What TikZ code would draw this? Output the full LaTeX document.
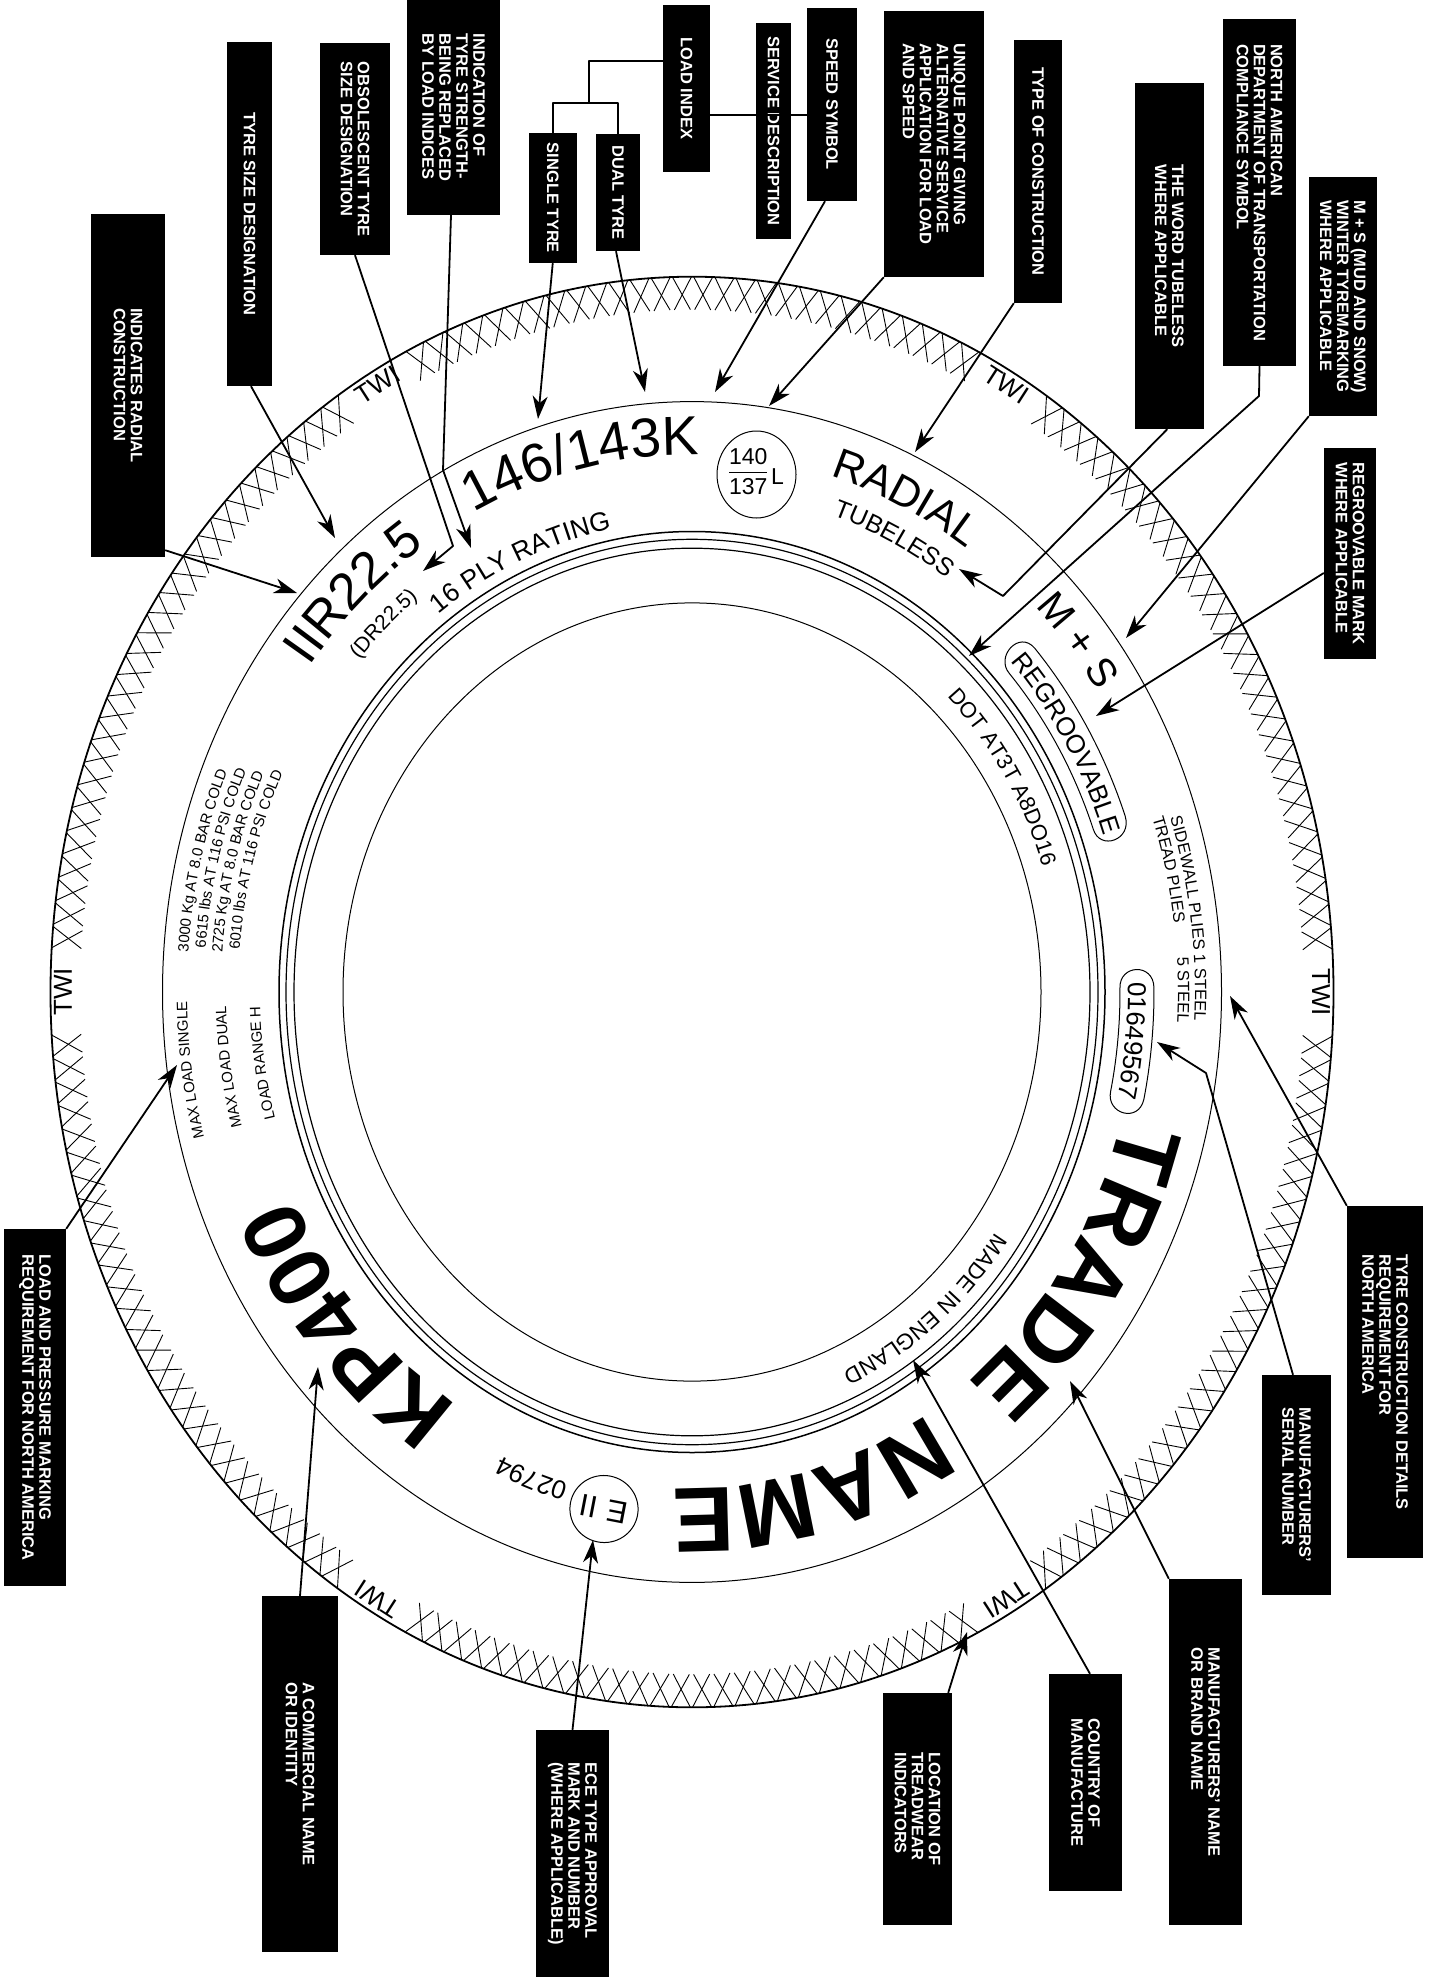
\documentclass[tikz,border=0pt]{standalone}
\usepackage{fontspec}
\setmainfont{Liberation Sans}
\usetikzlibrary{arrows.meta,decorations.text,shapes.geometric}

\newcommand{\tyreratio}{1.115}
\newcommand{\tyreweight}{}
% half range, size, centre angle, radius, text
\newcommand{\tyretext}[5][15]{%
  \pgfmathsetmacro{\tyreb}{#4*\tyreratio}%
  \pgfmathsetmacro{\tyrea}{#3-#1}%
  \pgfmathsetmacro{\tyrec}{#3+#1}%
  \path[decorate,decoration={text along path,text align=center,text={|\fontsize{#2}{#2}\selectfont\tyreweight|#5}}]
    (\tyrea:#4 and \tyreb) arc[start angle=\tyrea,end angle=\tyrec,x radius=#4,y radius=\tyreb];
}
% from, to, inner radius, outer radius
\newcommand{\tyrepill}[4]{%
  \pgfmathsetmacro{\pilli}{#3*\tyreratio}%
  \pgfmathsetmacro{\pillo}{#4*\tyreratio}%
  \pgfmathsetmacro{\pilla}{#1-2.8}%
  \pgfmathsetmacro{\pillb}{#2+2.8}%
  \draw[sideline] (#1:#4 and \pillo) arc[start angle=#1,end angle=#2,x radius=#4,y radius=\pillo]
    .. controls (\pillb:#4 and \pillo) and (\pillb:#3 and \pilli) .. (#2:#3 and \pilli)
    arc[start angle=#2,end angle=#1,x radius=#3,y radius=\pilli]
    .. controls (\pilla:#3 and \pilli) and (\pilla:#4 and \pillo) .. cycle;
}

\tikzset{
  lab/.style 2 args={fill=black,text=white,font=\fontsize{16.5}{17}\selectfont\bfseries,rotate=-90,align=left,inner sep=0pt,minimum width=#1pt,minimum height=#2pt},
  sideline/.style={line width=1pt},
  rimline/.style={line width=1.2pt},
  hatch/.style={line width=0.9pt},
  conn/.style={line width=1.8pt},
  twi/.style={font=\fontsize{26}{26}\selectfont,inner sep=0pt}
}

\begin{document}
\begin{tikzpicture}[x=1pt,y=-1pt,line join=round,>={Stealth[length=23pt,width=15pt,inset=7pt]}]
\useasboundingbox (0,0) rectangle (1431,1977);

\begin{scope}[shift={(692,992)}]
  % tyre outline
  \draw[line width=1.8pt] (0,0) ellipse[x radius=641.5,y radius=715.3];
  \draw[sideline] (0,0) ellipse[x radius=529.5,y radius=590.4];
  \draw[line width=1.5pt] (0,0) ellipse[x radius=413,y radius=460.5];
  \draw[rimline] (0,0) ellipse[x radius=406,y radius=452.7];
  \draw[rimline] (0,0) ellipse[x radius=398,y radius=443.8];
  \draw[sideline] (0,0) ellipse[x radius=349,y radius=389.1];
  % tread pattern
  \foreach \s in {0,60,...,300}{
    \foreach \i in {0,...,27}{
      \pgfmathsetmacro{\a}{\s+4.4+\i*1.9}
      \draw[hatch] ({\a-0.85}:641.5 and 715.3) -- ({\a+0.75}:612 and 682.4);
      \draw[hatch] ({\a+0.85}:641.5 and 715.3) -- ({\a-0.75}:612 and 682.4);
    }
  }
  \foreach \a/\r in {0/-90,60/-147.2,120/147.2,180/90,240/32.8,300/-32.8}
    \node[twi,rotate=\r] (twi\a) at (\a:629 and 701.3) {TWI};
  % sidewall markings
  \tyretext{52}{227}{481}{IIR22.5}
  \tyretext{21}{227.2}{447}{(DR22.5)}
  \tyretext[17]{55}{257}{482}{146/143K}
  \tyretext{26.5}{246.2}{423}{16 PLY RATING}
  \tyretext{43}{-64.5}{483}{RADIAL}
  \tyretext{25}{-63.8}{450}{TUBELESS}
  \tyretext{40}{-39.6}{487}{M + S}
  \tyretext[17]{26}{-31}{435}{REGROOVABLE}
  \tyrepill{-42}{-20}{427}{461}
  \tyretext[17]{22}{-32}{368}{DOT AT3T A8DO16}
  \tyretext{16.5}{-7.6}{503}{SIDEWALL PLIES 1 STEEL}
  \tyretext{16.5}{-13.1}{486}{TREAD PLIES}
  \tyretext{16.5}{-0.2}{486}{5 STEEL}
  \tyretext{26}{5.7}{436}{01649567}
  \tyrepill{-0.5}{12}{428}{462}
  \renewcommand{\tyreweight}{\bfseries}
  \tyretext[23]{90}{33.5}{445}{TRADE}
  \tyretext[23]{92}{75.4}{445}{NAME}
  \tyretext[23]{88}{138.5}{439}{KP400}
  \renewcommand{\tyreweight}{}
  \tyretext[18]{22.5}{50.9}{372}{MADE IN ENGLAND}
  \tyretext{26}{110}{458}{02794}
  \tyretext{15}{172}{505}{MAX LOAD SINGLE}
  \tyretext{15}{171.7}{466}{MAX LOAD DUAL}
  \tyretext{15}{171.5}{432}{LOAD RANGE H}
  \tyretext{15}{193.6}{505}{3000 Kg AT 8.0 BAR COLD}
  \tyretext{15}{194.4}{488}{6615 lbs AT 116 PSI COLD}
  \tyretext{15}{194.5}{471}{2725 Kg AT 8.0 BAR COLD}
  \tyretext{15}{195.3}{454}{6010 lbs AT 116 PSI COLD}
\end{scope}

% approval marks
\setlength{\arrayrulewidth}{1pt}
\node[draw,sideline,ellipse,minimum width=79pt,minimum height=87pt,inner sep=0pt,font=\fontsize{23}{24}\selectfont] (svcmark) at (756.5,474.5)
  {\begin{tabular}{@{}c@{}}140\\[1pt]\hline\rule{0pt}{21pt}137\end{tabular}\,\raisebox{-3.3pt}{L}};
\node[draw,sideline,ellipse,minimum width=60pt,minimum height=67pt,inner sep=0pt,rotate=169,font=\fontsize{31}{31}\selectfont] (ecemark) at (604,1509) {E\,\,II};

% labels
\node[lab={343}{74}] (radialbox) at (128,385.5) {INDICATES RADIAL\\CONSTRUCTION};
\node[lab={344}{45}] (sizebox) at (249.5,214) {TYRE SIZE DESIGNATION};
\node[lab={212}{70}] (obsbox) at (355,149) {OBSOLESCENT TYRE\\SIZE DESIGNATION};
\node[lab={215}{93}] (indbox) at (453.5,107.5) {INDICATION OF\\TYRE STRENGTH-\\BEING REPLACED\\BY LOAD INDICES};
\node[lab={130}{47.5}] (singlebox) at (552.75,198) {SINGLE TYRE};
\node[lab={117}{44}] (dualbox) at (618,192.5) {DUAL TYRE};
\node[lab={167}{47}] (loadbox) at (686.5,88.5) {LOAD INDEX};
\node[lab={216}{35}] (servbox) at (773.5,131) {SERVICE DESCRIPTION};
\node[lab={193}{50}] (speedbox) at (832,104.5) {SPEED SYMBOL};
\node[lab={266}{100}] (uniqbox) at (934,144) {UNIQUE POINT GIVING\\ALTERNATIVE SERVICE\\APPLICATION FOR LOAD\\AND SPEED};
\node[lab={263}{48}] (typebox) at (1038,171.5) {TYPE OF CONSTRUCTION};
\node[lab={346}{69.5}] (wordbox) at (1169.25,256) {THE WORD TUBELESS\\WHERE APPLICABLE};
\node[lab={347}{73}] (dotbox) at (1259.5,192.5) {NORTH AMERICAN\\DEPARTMENT OF TRANSPORTATION\\COMPLIANCE SYMBOL};
\node[lab={239}{68}] (msbox) at (1343,296.5) {M + S (MUD AND SNOW)\\WINTER TYREMARKING\\WHERE APPLICABLE};
\node[lab={211}{52}] (regbox) at (1350,553.5) {REGROOVABLE MARK\\WHERE APPLICABLE};
\node[lab={352}{76}] (detailbox) at (1385,1382) {TYRE CONSTRUCTION DETAILS\\REQUIREMENT FOR\\NORTH AMERICA};
\node[lab={220}{69}] (serialbox) at (1296.5,1485) {MANUFACTURERS'\\SERIAL NUMBER};
\node[lab={346}{73}] (namebox) at (1205.5,1752) {MANUFACTURERS' NAME\\OR BRAND NAME};
\node[lab={217}{73}] (countrybox) at (1085.5,1782.5) {COUNTRY OF\\MANUFACTURE};
\node[lab={232}{69}] (treadbox) at (917.5,1809) {LOCATION OF\\TREADWEAR\\INDICATORS};
\node[lab={247}{73}] (ecebox) at (572.5,1853.5) {ECE TYPE APPROVAL\\MARK AND NUMBER\\(WHERE APPLICABLE)};
\node[lab={356}{76}] (commbox) at (300,1774) {A COMMERCIAL NAME\\OR IDENTITY};
\node[lab={357}{62}] (pressbox) at (35,1407.5) {LOAD AND PRESSURE MARKING\\REQUIREMENT FOR NORTH AMERICA};

% free ends of the leaders
\coordinate (radialtip) at (297,593);
\coordinate (sizetip) at (335,538);
\coordinate (obsknee) at (453,546);
\coordinate (obstip) at (423,571);
\coordinate (indknee) at (443,470);
\coordinate (indtip) at (471,548);
\coordinate (singletip) at (538,419);
\coordinate (dualtip) at (645,392);
\coordinate (speedtip) at (715,392);
\coordinate (uniqtip) at (769,406);
\coordinate (typetip) at (915,452);
\coordinate (wordknee) at (1003,596);
\coordinate (wordtip) at (959,569);
\coordinate (dotknee) at (1259,396);
\coordinate (dottip) at (969,656);
\coordinate (mstip) at (1126,638);
\coordinate (regtip) at (1096,716);
\coordinate (detailtip) at (1230,996);
\coordinate (serialknee) at (1206,1073);
\coordinate (serialtip) at (1157,1042);
\coordinate (nametip) at (1070,1381);
\coordinate (countrytip) at (913,1360);
\coordinate (treadtip) at (967,1632);
\coordinate (ecetip) at (593,1540);
\coordinate (commtip) at (318,1367);
\coordinate (presstip) at (177,1065);
\coordinate (treejoin) at (589,103);
\coordinate (speedjoin) at (807,115);

\draw[conn,->] ([yshift=7pt]radialbox.north east) -- (radialtip);
\draw[conn,->] ([xshift=1.5pt]sizebox.east) -- (sizetip);
\draw[conn,->] (obsbox.east) -- (obsknee) -- (obstip);
\draw[conn,->] ([xshift=-2.5pt]indbox.east) -- (indknee) -- (indtip);
\draw[conn,->] (singlebox.east) -- (singletip);
\draw[conn,->] ([xshift=-2pt]dualbox.east) -- (dualtip);
\draw[conn,->] ([xshift=-7pt]speedbox.east) -- (speedtip);
\draw[conn,->] (uniqbox.south east) -- (uniqtip);
\draw[conn,->] (typebox.south east) -- (typetip);
\draw[conn,->] ([xshift=-2pt]wordbox.east) -- (wordknee) -- (wordtip);
\draw[conn,->] (dotbox.east) -- (dotknee) -- (dottip);
\draw[conn,->] (msbox.south east) -- (mstip);
\draw[conn,->] ([yshift=-19.5pt]regbox.south) -- (regtip);
\draw[conn,->] (detailbox.south west) -- (detailtip);
\draw[conn,->] ([xshift=-3.5pt]serialbox.west) -- (serialknee) -- (serialtip);
\draw[conn,->] (namebox.south west) -- (nametip);
\draw[conn,->] ([xshift=4.5pt]countrybox.west) -- (countrytip);
\draw[conn,->] ([xshift=-4pt]treadbox.north west) -- (treadtip);
\draw[conn,->] (ecebox.west) -- (ecetip);
\draw[conn,->] (commbox.west) -- (commtip);
\draw[conn,->] (pressbox.north west) -- (presstip);

% load index and service description brackets
\draw[conn] ([yshift=27.5pt]loadbox.south) -| (treejoin);
\draw[conn] (singlebox.west) |- (treejoin);
\draw[conn] (dualbox.west) |- (treejoin);
\draw[conn] ([yshift=-26.5pt]loadbox.north) -- (speedjoin);
\end{tikzpicture}
\end{document}
